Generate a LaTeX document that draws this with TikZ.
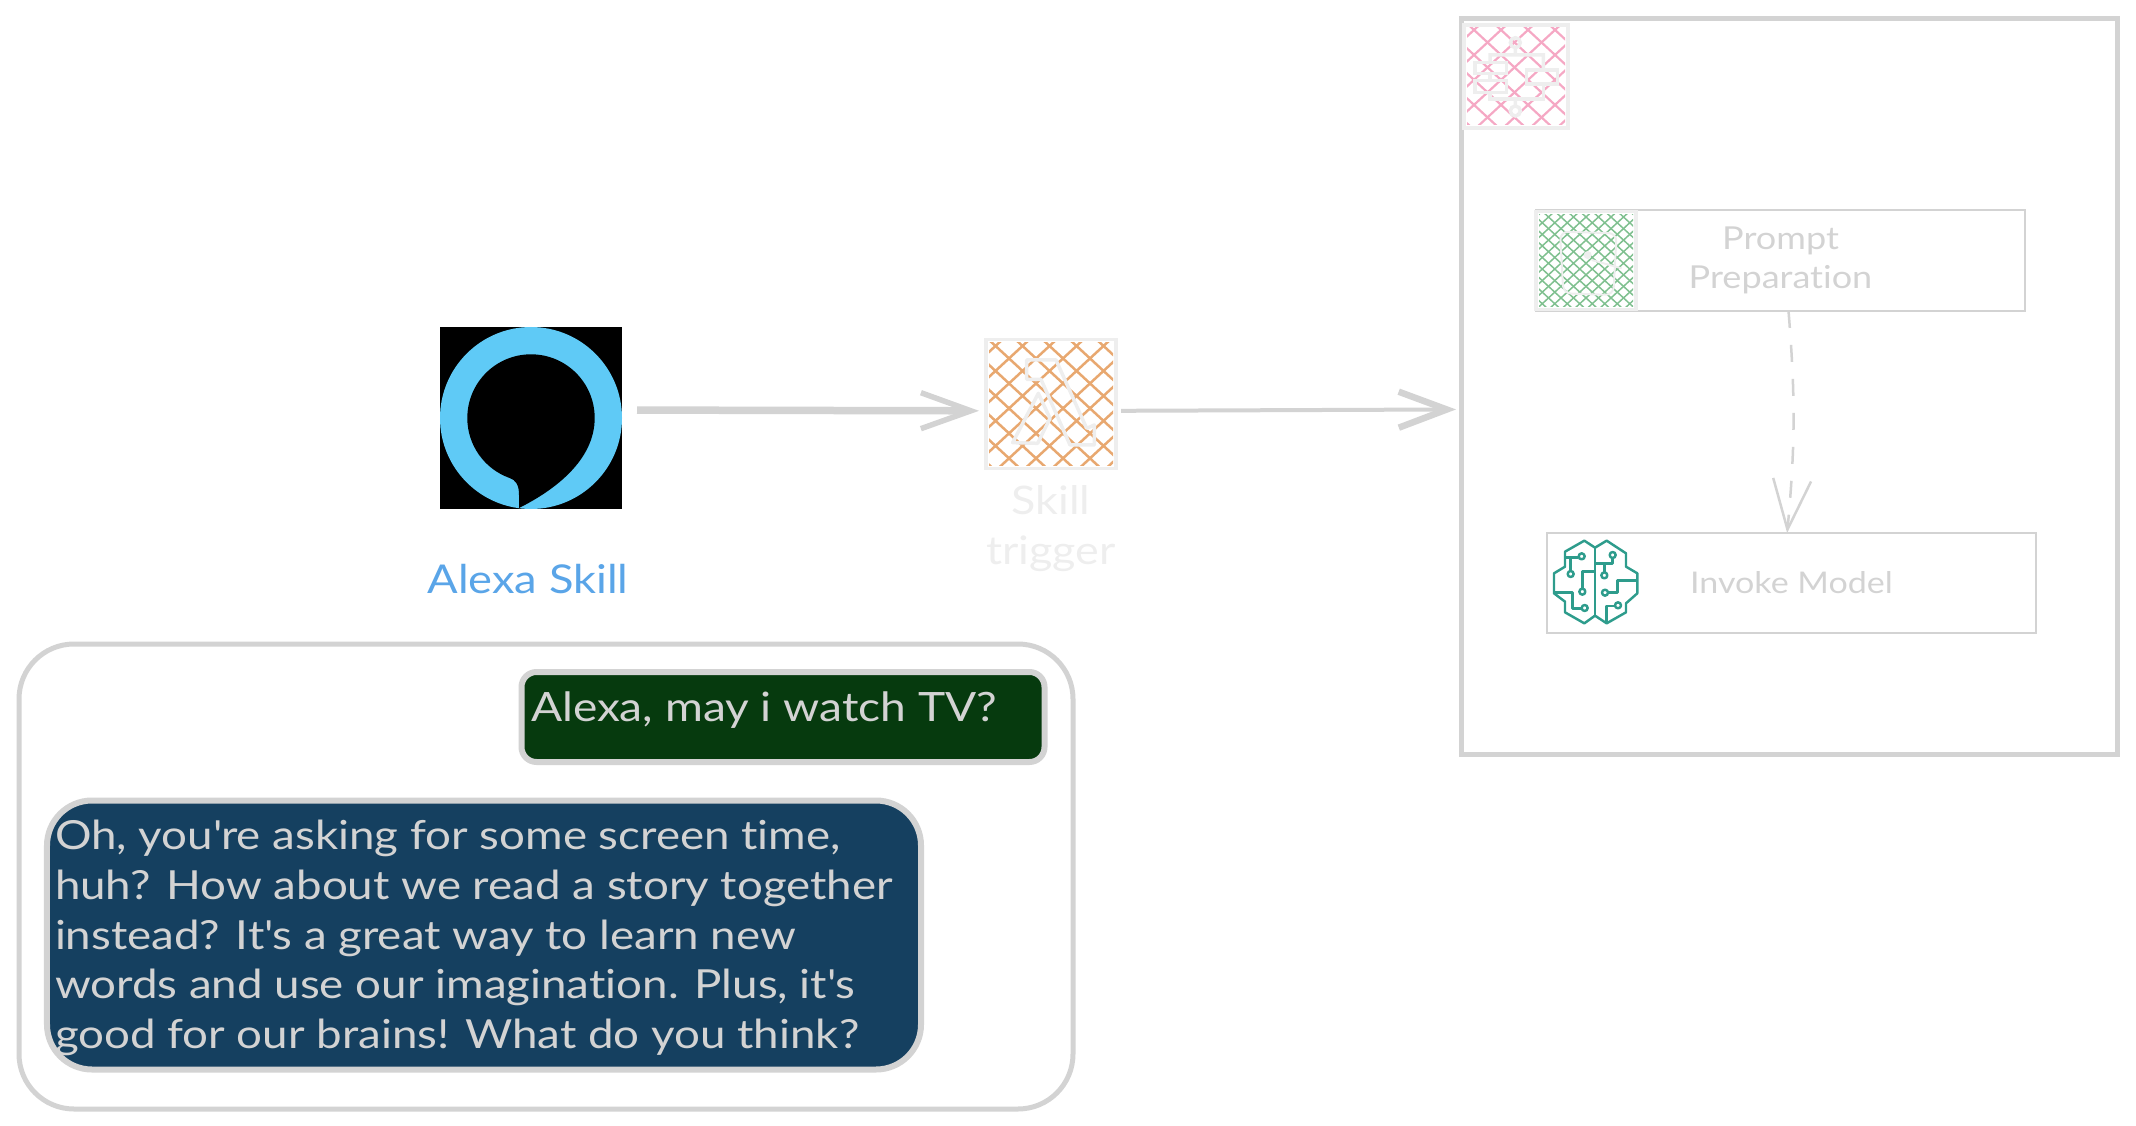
\documentclass[tikz,border=0pt]{standalone}
\usepackage{fontspec}
\setmainfont{Lato}[FakeStretch=1.14,Ligatures=NoCommon]
\usetikzlibrary{calc,arrows.meta}

\definecolor{edgegray}{HTML}{D3D3D3}
\definecolor{palegray}{HTML}{EEEEEE}
\definecolor{alexablue}{HTML}{5FCAF6}
\definecolor{labelblue}{HTML}{5AA5E8}
\definecolor{hatchorange}{HTML}{E8A870}
\definecolor{hatchpink}{HTML}{F5A8C4}
\definecolor{hatchgreen}{HTML}{7FC08F}
\definecolor{brainteal}{HTML}{2E9C8C}
\definecolor{chatgreen}{HTML}{063A0E}
\definecolor{chatblue}{HTML}{154060}

% cross hatch inside a node: name, colour, spacing, line width
\newcommand{\hatchnode}[4]{
    \begin{scope}
        \clip ([shift={(.03,.03)}]#1.south west) rectangle ([shift={(-.03,-.03)}]#1.north east);
        \pgfmathsetmacro{\nxt}{-1.5+#3}
        \foreach \d in {-1.5,\nxt,...,1.5} {
            \draw[#2,line width=#4] ([xshift=\d cm]#1.south west) -- ++(2,1.85);
            \draw[#2,line width=#4] ([xshift=\d cm]#1.south east) -- ++(-2,1.85);
        }
    \end{scope}
}

\begin{document}
\begin{tikzpicture}
    [   outer sep=0pt,
        iconbox/.style 2 args={draw=palegray,line width=.035cm,minimum width=#1,minimum height=#2,inner sep=0pt},
        framebox/.style 2 args={draw=edgegray,line width=.05cm,minimum width=#1,minimum height=#2,inner sep=0pt},
        stepbox/.style 2 args={draw=edgegray,line width=.025cm,minimum width=#1,minimum height=#2,inner sep=0pt,text=edgegray,align=center},
        chat/.style n args={3}{rounded corners=#3,draw=edgegray,fill=#2,line width=.06cm,minimum width=#1},
        chattext/.style={text=edgegray,align=left,anchor=west,inner sep=0pt},
        icon/.style={draw=palegray,line width=.035cm},
        brain/.style={draw=brainteal,line width=.07em},
        bigarrow/.style={-{Straight Barb[length=.5cm,width=.36cm,line width=.055cm]},draw=edgegray},
        fine/.style={x=1cm/300,y=-1cm/300},
    ]
        \useasboundingbox (0,0) rectangle (21.36,-11.26);

        % draw the nodes
        \node[fill=black,minimum size=1.82cm,inner sep=0pt] (alexa) at (5.31,-4.18) {};
        \node[text=labelblue,font=\fontsize{11.3}{14}\selectfont] (alexalabel) at (5.28,-5.79) {Alexa Skill};
        \node[iconbox={1.30cm}{1.29cm}] (trigger) at (10.51,-4.04) {};
        \node[text=palegray,align=center,font=\fontsize{11.2}{14.2}\selectfont] (triggerlabel) at (10.51,-5.29) {Skill\\trigger};
        \node[framebox={6.56cm}{7.35cm}] (bigbox) at (17.89,-3.865) {};
        \node[iconbox={1.04cm}{1.03cm}] (bedrock) at (15.16,-.765) {};
        \node[stepbox={4.89cm}{1.01cm},font=\fontsize{9}{11.2}\selectfont] (prompt) at (17.805,-2.605) {Prompt\\Preparation};
        \node[iconbox={1.00cm}{.98cm}] (notebook) at (15.86,-2.605) {};
        \node[stepbox={4.89cm}{1.00cm},font=\fontsize{8.5}{11}\selectfont] (invoke) at (17.915,-5.83) {Invoke Model};

        \node[framebox={10.54cm}{4.65cm},rounded corners=.55cm] (chatframe) at (5.46,-8.765) {};
        \node[chat={5.23cm}{chatgreen}{.15cm},minimum height=.90cm] (question) at (7.83,-7.17) {};
        \node[chattext,font=\fontsize{11.5}{14}\selectfont] (questiontext) at (5.31,-7.10) {Alexa, may i watch TV?};
        \node[chat={8.74cm}{chatblue}{.45cm},minimum height=2.69cm] (answer) at (4.84,-9.35) {};
        \node[chattext,font=\fontsize{11.4}{14.1}\selectfont] (answertext) at (.55,-9.38)
            {Oh, you\textquotesingle re asking for some screen time,\\
             huh? How about we read a story together\\
             instead? It\textquotesingle s a great way to learn new\\
             words and use our imagination. Plus, it\textquotesingle s\\
             good for our brains! What do you think?};

        % the logo
        \fill[alexablue] (alexa.center) circle (.91);
        \fill[black] (5.947,-4.18) arc[start angle=0,end angle=250,radius=.637]
            .. controls (5.16,-4.80) and (5.19,-4.85) .. (5.19,-4.95) -- (5.19,-5.08)
            .. controls (5.55,-4.90) and (5.947,-4.60) .. (5.947,-4.18) -- cycle;

        % the hatching
        \hatchnode{trigger}{hatchorange}{.27}{.025cm}
        \hatchnode{bedrock}{hatchpink}{.27}{.022cm}
        \hatchnode{notebook}{hatchgreen}{.125}{.015cm}

        % draw the icons
        \begin{scope}[shift={(9.75cm,-3.30cm)},fine]
            \draw[icon,line join=round] (155,90) -- (243,90) -- (335,295) -- (358,285) -- (358,345)
                -- (285,345) -- (198,148) -- (155,148) -- cycle;
            \draw[icon,line join=round] (190,190) -- (113,338) -- (188,340) -- (225,265) -- cycle;
        \end{scope}
        \begin{scope}[shift={(14.55cm,-.15cm)},fine]
            \draw[icon] (181,83) circle (15) (181,98) -- (181,120) (105,145) -- (105,120) -- (265,120) -- (265,165);
            \draw[icon] (60,142) rectangle (155,175) (215,165) rectangle (308,207) (60,197) rectangle (155,232);
            \draw[icon] (105,175) -- (105,197) (105,232) -- (105,252) -- (265,252) -- (265,207);
            \draw[icon] (181,252) -- (181,273) (181,288) circle (15);
        \end{scope}
        \begin{scope}[shift={(15.25cm,-2.00cm)},fine]
            \draw[icon,line width=.02cm,rounded corners=.08cm] (105,95) -- (275,100) -- (265,285) -- (115,280) -- cycle;
            \fill[palegray] (188,165) circle (12);
            \draw[icon,line width=.02cm] (200,180) -- (290,205);
        \end{scope}
        \begin{scope}[shift={(15.40cm,-5.25cm)},fine,brain,line join=round]
            \draw (165,68) -- (133,47) -- (75,80) -- (75,125) -- (42,145) -- (42,205) -- (75,230)
                -- (75,262) -- (133,295) -- (165,272) -- (200,295) -- (258,262) -- (258,235)
                -- (292,205) -- (292,145) -- (258,125) -- (258,85) -- (200,47) -- cycle;
            \draw (165,68) -- (165,272);
            \draw (75,97) -- (115,97) (92,97) -- (92,138);
            \draw (165,140) -- (127,140) -- (127,190);
            \draw (42,202) -- (97,202) -- (97,250) -- (124,250);
            \draw (165,115) -- (218,115) -- (218,100) (193,115) -- (193,142);
            \draw (292,167) -- (232,167) -- (232,203) -- (205,203);
            \draw (200,295) -- (200,243) -- (225,243);
            \foreach \x/\y in {125/94,92/147,127/200,134/249,218/90,193/151,195/203,234/241}
                \draw (\x,\y) circle (9);
        \end{scope}

        % draw the lines
        \draw[bigarrow,line width=.075cm,shorten <=.15cm,shorten >=.07cm] (alexa.5) -- (trigger.186);
        \draw[-{Straight Barb[length=.48cm,width=.36cm,line width=.065cm]},draw=edgegray,line width=.04cm,shorten <=.05cm,shorten >=.05cm] (trigger.354) -- (bigbox.184.4);
        \draw[-{Straight Barb[length=.5cm,width=.38cm,line width=.025cm]},draw=edgegray,line width=.025cm,
            dash pattern=on .17cm off .17cm] (prompt.279) to[bend left=5] (invoke.95);
    \end{tikzpicture}
\end{document}
